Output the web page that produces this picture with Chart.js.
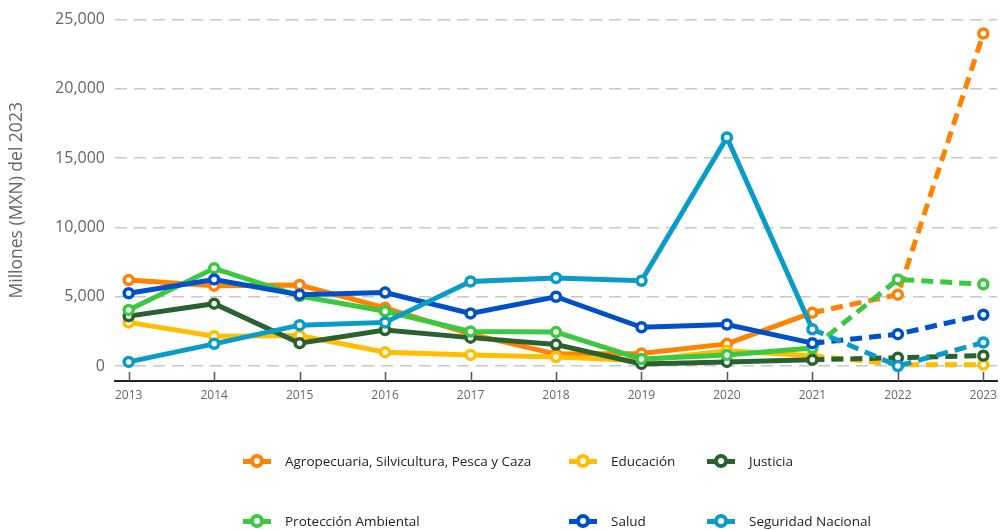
<!DOCTYPE html>
<html>
<head>
<meta charset="utf-8">
<script src="https://cdn.jsdelivr.net/npm/chart.js@4"></script>
<style>
  body { margin: 0; background: #fff; font-family: "Open Sans", sans-serif; }
  #wrap { position: relative; width: 1005px; height: 530px; overflow: hidden; }
  #legend { position: absolute; left: 0; top: 0; width: 1005px; height: 530px; pointer-events: none; }
  .item { position: absolute; height: 20px; display: flex; align-items: center; font-size: 13.5px; color: #222; white-space: nowrap; }
  .mark { position: relative; width: 28px; height: 14px; margin-right: 14px; }
  .mark .bar { position: absolute; left: 0; top: 5px; width: 28px; height: 5px; }
  .mark .dot { position: absolute; left: 7px; top: 0; width: 6px; height: 6px; border-radius: 50%; background: #fff; border: 4px solid; }
</style>
</head>
<body>
<div id="wrap">
  <canvas id="chart" width="1005" height="420"></canvas>
  <div id="legend"></div>
</div>
<script>
// years and series (millones de pesos de 2023)
const years = [2013, 2014, 2015, 2016, 2017, 2018, 2019, 2020, 2021, 2022, 2023];
const yTicks = [0, 5000, 10000, 15000, 20000, 25000];

const agropecuaria = [6200, 5800, 5850, 4200, 2300, 860, 900, 1600, 3850, 5150, 24000];
const educacion = [3150, 2150, 2200, 1000, 800, 650, 400, 1100, 750, 100, 100];
const justicia = [3600, 4500, 1650, 2600, 2050, 1550, 150, 300, 450, 600, 750];
const proteccion = [4050, 7050, 5050, 3950, 2500, 2450, 500, 800, 1300, 6250, 5900];
const salud = [5250, 6250, 5150, 5300, 3800, 5000, 2800, 3000, 1650, 2300, 3700];
const seguridad = [300, 1600, 2950, 3150, 6100, 6350, 6150, 16500, 2650, 0, 1700];

const seriesNames = ['Agropecuaria, Silvicultura, Pesca y Caza', 'Educación', 'Justicia',
  'Protección Ambiental', 'Salud', 'Seguridad Nacional'];
const seriesData = [agropecuaria, educacion, justicia, proteccion, salud, seguridad];
const seriesColors = ['#ff8200', '#ffbf00', '#2a6130', '#3dc843', '#0051c9', '#0a9cc9'];

// from 2021 on the lines are dashed
const dashFrom = 2021;

const datasets = seriesData.map((vals, i) => ({
  label: seriesNames[i],
  data: vals.map((v, j) => ({ x: years[j], y: v })),
  borderColor: seriesColors[i],
  backgroundColor: '#fff',
  pointBackgroundColor: '#fff',
  pointBorderColor: seriesColors[i],
  borderWidth: 5,
  pointRadius: 4.5,
  pointBorderWidth: 3.5,
  tension: 0,
  order: seriesData.length - i,
  segment: {
    borderDash: ctx => ctx.p0.parsed.x >= dashFrom ? [12, 7] : undefined
  }
}));

const tickMarks = {
  id: 'tickMarks',
  afterDatasetsDraw(chart) {
    const ctx = chart.ctx;
    const xs = chart.scales.x;
    const bottom = chart.chartArea.bottom;
    ctx.save();
    ctx.strokeStyle = '#555';
    ctx.lineWidth = 1.5;
    xs.ticks.forEach(t => {
      const px = Math.round(xs.getPixelForValue(t.value)) + 0.5;
      ctx.beginPath();
      ctx.moveTo(px, bottom - 9);
      ctx.lineTo(px, bottom);
      ctx.stroke();
    });
    ctx.restore();
  }
};

new Chart(document.getElementById('chart'), {
  type: 'line',
  data: { datasets: datasets },
  plugins: [tickMarks],
  options: {
    responsive: false,
    animation: false,
    layout: { padding: { top: 16, right: 5, bottom: 9, left: 0 } },
    plugins: {
      legend: { display: false },
      tooltip: { enabled: false }
    },
    scales: {
      x: {
        type: 'linear',
        min: 2012.84,
        max: 2023.16,
        afterBuildTicks: s => { s.ticks = years.map(v => ({ value: v })); },
        afterFit: s => { s.height = 30; },
        grid: { display: false, drawTicks: false },
        border: { display: true, color: '#222', width: 2 },
        ticks: {
          callback: v => String(v),
          color: '#666',
          font: { family: 'Open Sans', size: 12 },
          padding: 7,
          maxRotation: 0
        }
      },
      y: {
        min: -1080,
        max: 25000,
        afterBuildTicks: s => { s.ticks = yTicks.map(v => ({ value: v })); },
        afterFit: s => { s.width = 115; },
        grid: { color: '#c8c8c8', lineWidth: 1.5, drawTicks: false },
        border: { display: true, width: 0, color: 'rgba(0,0,0,0)', dash: [12, 7] },
        ticks: {
          callback: v => v.toLocaleString('en-US'),
          color: '#666',
          font: { family: 'Open Sans', size: 16 },
          padding: 10
        },
        title: {
          display: true,
          text: 'Millones (MXN) del 2023',
          color: '#666',
          font: { family: 'Open Sans', size: 17.5 },
          padding: { top: 7, bottom: 0 }
        }
      }
    }
  }
});

// legend laid out in two rows of three columns
const legendCols = [243, 569, 707];
const legendRows = [461, 521];
const legend = document.getElementById('legend');
seriesNames.forEach((name, i) => {
  const el = document.createElement('div');
  el.className = 'item';
  el.style.left = legendCols[i % 3] + 'px';
  el.style.top = (legendRows[Math.floor(i / 3)] - 10) + 'px';
  el.innerHTML = '<span class="mark"><span class="bar" style="background:' + seriesColors[i] +
    '"></span><span class="dot" style="border-color:' + seriesColors[i] + '"></span></span>';
  el.appendChild(document.createTextNode(name));
  legend.appendChild(el);
});
</script>
</body>
</html>
